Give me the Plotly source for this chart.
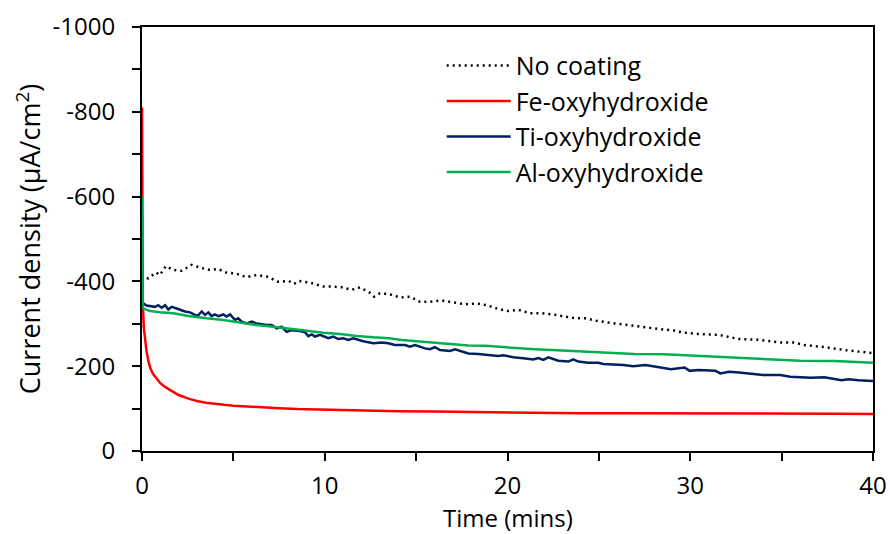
import plotly.graph_objects as go

# Chronoamperometry: current density vs time for different coatings
t_none = [0.26, 0.35, 0.77, 0.98, 1.31, 1.71, 2.17, 2.72, 3.21, 3.72, 4.18, 4.6, 5.18, 5.69,
          6.27, 6.86, 7.46, 8.04, 8.32, 8.61, 9.19, 9.92, 10.38, 10.93, 11.47, 11.93, 12.48,
          12.71, 13.02, 13.53, 14.12, 14.66, 15.21, 15.76, 16.4, 16.95, 17.67, 18.31, 18.86,
          19.5, 20.04, 20.59, 21.23, 21.87, 22.51, 23.15, 23.69, 24.24, 24.88, 25.52, 26.16,
          26.8, 28.01, 29.13, 29.5, 30.43, 31.56, 32.67, 33.79, 34.92, 35.66, 36.22, 37.34,
          38.46, 39.58, 40.0]
i_none = [-408, -407, -421, -415, -436, -427, -425, -439, -432, -427, -429, -421, -418, -410,
          -415, -411, -399, -401, -394, -401, -397, -388, -388, -386, -380, -386, -373,
          -364, -372, -370, -362, -364, -352, -352, -355, -351, -346, -348, -344,
          -335, -330, -333, -325, -325, -322, -317, -313, -313, -307, -303, -299,
          -296, -289, -284, -280, -276, -274, -264, -262, -256, -256, -250, -245,
          -238, -233, -231]

t_fe = [0, 0.02, 0.05, 0.1, 0.16, 0.25, 0.35, 0.45, 0.6, 0.8, 1.0, 1.3, 1.6, 2.0, 2.5, 3.0,
        3.5, 4.0, 4.5, 5.0, 5.7, 6.5, 7.5, 8.5, 9.5, 10.3, 12, 14, 16, 18, 20, 22, 24, 26,
        28, 30, 32, 34, 36, 38, 40]
i_fe = [-810, -560, -340, -290, -265, -235, -212, -196, -182, -170, -160, -150, -142, -132,
        -124, -118, -114, -111, -109, -107, -105, -103, -101, -99, -98, -97, -96, -94,
        -93, -92, -90, -90, -89, -89, -89, -88, -89, -88, -88, -88, -87]

t_ti = [0, 0.25, 0.71, 0.89, 1.08, 1.26, 1.44, 1.62, 1.9, 2.35, 2.63, 3.03, 3.27, 3.45, 3.63,
        3.81, 3.99, 4.18, 4.45, 4.63, 4.82, 5.09, 5.27, 5.45, 5.73, 6.0, 6.27, 6.82, 7.1,
        7.37, 7.64, 7.92, 8.19, 8.65, 8.92, 9.1, 9.29, 9.47, 9.74, 10.19, 10.47, 10.74,
        11.02, 11.29, 11.56, 12.11, 12.66, 13.12, 13.48, 13.84, 14.39, 14.66, 14.94, 15.49,
        15.76, 16.03, 16.31, 16.85, 17.13, 17.58, 17.86, 18.4, 18.95, 19.5, 19.77, 20.32,
        20.86, 21.41, 21.69, 21.96, 22.23, 22.78, 23.33, 23.6, 23.87, 24.42, 24.97, 25.24,
        25.79, 26.34, 26.88, 27.54, 28.38, 28.94, 29.69, 29.97, 30.43, 31.37, 31.65, 32.11,
        32.67, 33.23, 33.98, 34.92, 35.47, 36.6, 37.34, 38.28, 38.65, 39.21, 39.95, 40.0]
i_ti = [-350, -343, -340, -344, -338, -344, -334, -340, -336, -329, -327, -318, -329, -321,
        -327, -318, -322, -318, -322, -317, -322, -309, -313, -305, -301, -305, -301, -297,
        -297, -289, -293, -281, -285, -283, -280, -271, -275, -270, -274, -266, -270, -264,
        -266, -262, -266, -259, -254, -256, -254, -250, -250, -246, -250, -242,
        -240, -245, -238, -236, -240, -234, -230, -229, -226, -224, -226, -221,
        -219, -216, -219, -215, -221, -213, -211, -216, -211, -208, -208, -205,
        -204, -203, -200, -203, -197, -193, -197, -189, -191, -189, -183, -187,
        -185, -182, -179, -179, -175, -173, -174, -167, -169, -167, -166, -165]

t_al = [0, 0.03, 0.44, 0.98, 1.71, 2.63, 3.54, 4.45, 5.36, 6.27, 7.19, 8.1, 9.01, 9.92, 10.83,
        11.75, 12.66, 13.53, 14.21, 15.12, 16.03, 16.95, 17.86, 18.77, 19.68, 20.59, 21.5,
        22.42, 23.33, 24.24, 25.15, 26.06, 26.94, 28.57, 30.43, 32.3, 34.17, 36.03, 37.9, 40.0]
i_al = [-600, -337, -330, -327, -325, -318, -313, -309, -303, -297, -293, -288, -283, -279,
        -276, -271, -268, -266, -262, -259, -256, -252, -249, -248, -245, -242, -240,
        -238, -236, -234, -232, -230, -229, -228, -224, -221, -217, -213, -212, -208]

series_names = ["No coating", "Fe-oxyhydroxide", "Ti-oxyhydroxide", "Al-oxyhydroxide"]
series_colors = ["#000000", "#FF0000", "#002060", "#00B050"]

x_tick_vals = [0, 10, 20, 30, 40]
y_tick_vals = [0, -200, -400, -600, -800, -1000]
y_tick_text = ["0", "-200", "-400", "-600", "-800", "-1000"]

FONT = "Open Sans"

fig = go.Figure()
data = [(t_none, i_none), (t_fe, i_fe), (t_ti, i_ti), (t_al, i_al)]
for k, ((tx, iy), name, col) in enumerate(zip(data, series_names, series_colors)):
    line = dict(color=col, width=2.5)
    if k == 0:
        line = dict(color=col, width=2.5, dash="2px,4px")
    fig.add_trace(go.Scatter(x=tx, y=iy, mode="lines", name=name, line=line,
                             legendgroup=f"g{k}"))

axis_common = dict(showline=True, linecolor="black", linewidth=2, mirror=True,
                   ticks="outside", tickcolor="black", tickwidth=2, ticklen=8,
                   showgrid=False, zeroline=False, automargin=False,
                   tickfont=dict(family=FONT, size=24, color="black"))

fig.update_xaxes(range=[0, 40], tickvals=x_tick_vals, ticklabelstandoff=4,
                 minor=dict(dtick=5, ticks="outside", ticklen=8, tickwidth=2, tickcolor="black"),
                 **axis_common)
fig.update_yaxes(range=[0, -1000], tickvals=y_tick_vals, ticktext=y_tick_text,
                 ticklabelstandoff=12,
                 minor=dict(dtick=100, ticks="outside", ticklen=8, tickwidth=2, tickcolor="black"),
                 title=dict(text="Current density (μA/cm<sup>2</sup>)",
                            font=dict(family=FONT, size=27, color="black"), standoff=4),
                 **axis_common)

# x-axis title placed below the tick labels
fig.add_annotation(text="Time (mins)", xref="paper", yref="paper", x=0.5, y=-0.156,
                   xanchor="center", yanchor="middle", showarrow=False, borderpad=0,
                   font=dict(family=FONT, size=24, color="black"))

fig.update_layout(
    width=890, height=534,
    margin=dict(l=142, r=17, t=27, b=83),
    plot_bgcolor="white", paper_bgcolor="white",
    legend=dict(x=0.41, y=0.963, xanchor="left", yanchor="top",
                bgcolor="rgba(0,0,0,0)", itemwidth=64, tracegroupgap=0,
                traceorder="grouped",
                font=dict(family=FONT, size=25, color="black")),
)

fig.write_html("out.html")
